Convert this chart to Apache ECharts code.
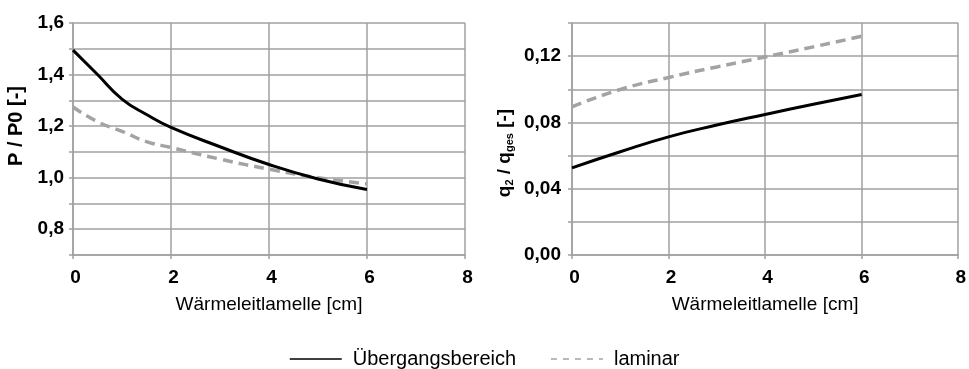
<!DOCTYPE html>
<html>
<head>
<meta charset="utf-8">
<script src="https://cdn.jsdelivr.net/npm/echarts@6/dist/echarts.min.js"></script>
<style>
  html, body { margin: 0; padding: 0; background: #fff; }
  #main { width: 969px; height: 369px; }
</style>
</head>
<body>
<div id="main"></div>
<script>
// Wärmeleitlamelle [cm]
var xLeft = [0, 0.5, 1, 1.5, 2, 3, 4, 5, 6];
var powerTrans = [1.495, 1.40, 1.305, 1.245, 1.195, 1.12, 1.051, 0.995, 0.954];
var powerLam = [1.274, 1.217, 1.18, 1.14, 1.117, 1.072, 1.033, 1.0, 0.976];

var xRight = [0, 1, 2, 3, 4, 5, 6];
var shareTrans = [0.0526, 0.0623, 0.0713, 0.0784, 0.0848, 0.0910, 0.0969];
var shareLam = [0.0894, 0.0999, 0.1071, 0.1135, 0.1195, 0.1256, 0.132];

var seriesNames = ["Übergangsbereich", "laminar"];

function pairs(xs, ys) {
  return xs.map(function (x, i) { return [x, ys[i]]; });
}

var gridColor = "#a0a0a0";
var font = "'Liberation Sans', Arial, sans-serif";

function xAxisCfg(idx) {
  return {
    gridIndex: idx,
    type: "value",
    min: 0, max: 8, interval: 2,
    name: "Wärmeleitlamelle [cm]",
    nameLocation: "middle",
    nameGap: 40,
    nameTextStyle: { fontFamily: font, fontSize: 19, color: "#000" },
    axisLine: { show: true, lineStyle: { color: gridColor, width: 1.5 } },
    axisTick: { show: true, length: 4, lineStyle: { color: gridColor, width: 1.5 } },
    axisLabel: { margin: 13, fontFamily: font, fontSize: 19, fontWeight: "bold", color: "#000", padding: [0, 0, 0, 5] },
    splitLine: { show: true, lineStyle: { color: gridColor, width: 1.5 } }
  };
}

var lineBlack = { color: "#000", width: 3 };
var lineGray = { color: "#a3a3a3", width: 3.5, type: [10, 6] };

function seriesCfg(name, xi, xs, ys, style, z) {
  return {
    name: name, type: "line", xAxisIndex: xi, yAxisIndex: xi,
    smooth: 0.5, symbol: "none",
    lineStyle: style, itemStyle: { color: style.color },
    data: pairs(xs, ys), z: z
  };
}

var option = {
  animation: false,
  backgroundColor: "#fff",
  grid: [
    { left: 73, right: 504, top: 23, bottom: 114 },
    { left: 572, right: 6, top: 23, bottom: 114 }
  ],
  legend: {
    top: 344,
    left: 284,
    itemWidth: 52,
    itemHeight: 10,
    itemGap: 34,
    textStyle: { fontFamily: font, fontSize: 20, color: "#000", padding: [0, 0, 0, 6] },
    data: [
      { name: seriesNames[0], lineStyle: { width: 1.5 }, itemStyle: { opacity: 0 } },
      { name: seriesNames[1], lineStyle: { width: 1.5, type: [6, 6] }, itemStyle: { opacity: 0 } }
    ]
  },
  xAxis: [xAxisCfg(0), xAxisCfg(1)],
  yAxis: [
    {
      gridIndex: 0,
      type: "value",
      min: 0.7, max: 1.6, interval: 0.1,
      name: "P / P0 [-]",
      nameLocation: "middle",
      nameGap: 47,
      nameRotate: 90,
      nameTextStyle: { fontFamily: font, fontSize: 20, fontWeight: "bold", color: "#000", padding: [0, 0, 0, 26] },
      axisLine: { show: true, lineStyle: { color: gridColor, width: 1.5 } },
      axisTick: { show: true, length: 4, lineStyle: { color: gridColor, width: 1.5 } },
      axisLabel: {
        margin: 9, fontFamily: font, fontSize: 19, fontWeight: "bold", color: "#000",
        formatter: function (v) {
          var t = Math.round(v * 10);
          if (t % 2 !== 0) return "";
          return (t / 10).toFixed(1).replace(".", ",");
        }
      },
      splitLine: { show: true, lineStyle: { color: gridColor, width: 1.5 } }
    },
    {
      gridIndex: 1,
      type: "value",
      min: 0, max: 0.14, interval: 0.02,
      name: "{n|q}{s|2}{n| / q}{s|ges}{n| [-]}",
      nameLocation: "middle",
      nameGap: 57,
      nameRotate: 90,
      nameTextStyle: {
        fontFamily: font, fontSize: 19, color: "#000", padding: [0, 28, 0, 0],
        rich: {
          n: { fontFamily: font, fontSize: 19, color: "#000", fontWeight: "bold" },
          s: { fontFamily: font, fontSize: 11, color: "#000", fontWeight: "bold", padding: [9, 0, 0, 0] }
        }
      },
      axisLine: { show: true, lineStyle: { color: gridColor, width: 1.5 } },
      axisTick: { show: true, length: 4, lineStyle: { color: gridColor, width: 1.5 } },
      axisLabel: {
        margin: 11, fontFamily: font, fontSize: 19, fontWeight: "bold", color: "#000",
        formatter: function (v) {
          var t = Math.round(v * 100);
          if (t % 4 !== 0) return "";
          return (t / 100).toFixed(2).replace(".", ",");
        }
      },
      splitLine: { show: true, lineStyle: { color: gridColor, width: 1.5 } }
    }
  ],
  series: [
    seriesCfg(seriesNames[0], 0, xLeft, powerTrans, lineBlack, 3),
    seriesCfg(seriesNames[1], 0, xLeft, powerLam, lineGray, 2),
    seriesCfg(seriesNames[0], 1, xRight, shareTrans, lineBlack, 3),
    seriesCfg(seriesNames[1], 1, xRight, shareLam, lineGray, 2)
  ]
};

var chart = echarts.init(document.getElementById("main"));
chart.setOption(option);
</script>
</body>
</html>
